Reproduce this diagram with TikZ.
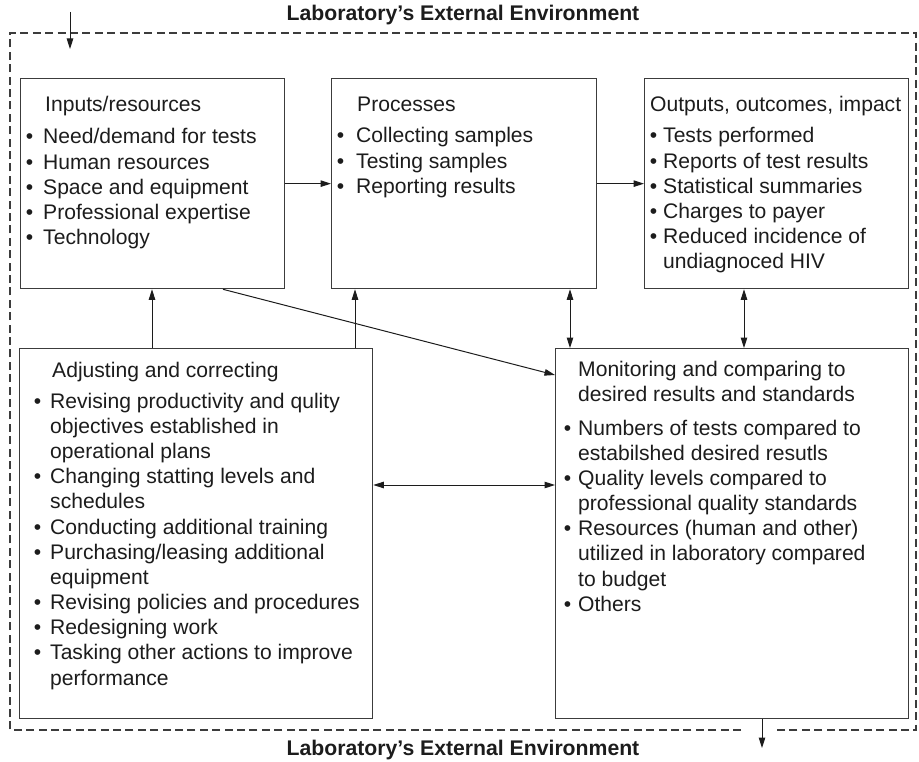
\documentclass[tikz,border=0pt]{standalone}
\usepackage{fontspec}
\setmainfont{Liberation Sans}
\usetikzlibrary{arrows.meta}

\definecolor{ink}{HTML}{1C1C1C}
\definecolor{edge}{HTML}{3C3C3C}

% bullet hung to the left of the text column
\newlength\bulgap
\newcommand\bl{\llap{\textbullet\hspace{\bulgap}}}
\newcommand\bodysize{\fontsize{21.1}{25.2}\selectfont}

\begin{document}
\begin{tikzpicture}[x=1pt,y=-1pt,
  stagebox/.style={draw=edge, line width=1.3pt, fill=white, anchor=north west,
                   inner sep=0pt, minimum width=#1},
  boxhigh/.style={minimum height=#1},
  heading/.style={anchor=base west, inner sep=0pt, text=ink, font=\bodysize},
  items/.style={anchor=base west, inner sep=0pt, text=ink, font=\bodysize},
  envlabel/.style={anchor=base, inner sep=0pt, text=ink,
                   font=\fontsize{21.2}{25}\selectfont\bfseries},
  envline/.style={draw=edge, line width=1.1pt, dash pattern=on 8pt off 4.4pt},
  conn/.style={draw=ink, line width=1pt, -{Triangle[length=10.5pt,width=6.5pt]}},
  dconn/.style={draw=ink, line width=1pt,
                {Triangle[length=10.5pt,width=6.5pt]}-{Triangle[length=10.5pt,width=6.5pt]}},
]
\useasboundingbox (0,0) rectangle (919,762);

% environment boundary, open where the output leaves it
\draw[envline] (741,730) -- (10,730) -- (10,33) -- (916,33) -- (916,730) -- (777,730);
\node[envlabel] (envTop) at (463,21) {Laboratory's External Environment};
\node[envlabel] (envBot) at (463,755) {Laboratory's External Environment};

% stage boxes
\node[stagebox=264pt, boxhigh=210pt] (inp)  at (20,78)  {};
\node[stagebox=265pt, boxhigh=210pt] (proc) at (331,78) {};
\node[stagebox=264pt, boxhigh=210pt] (outp) at (644,78) {};
\node[stagebox=353pt, boxhigh=370pt] (adj)  at (19,348) {};
\node[stagebox=353pt, boxhigh=370pt] (mon)  at (555,348) {};

% box contents
\node[heading] (inpH) at (45,112) {Inputs/resources};
\node[items] (inpL) at (43,144) {\setlength\bulgap{10pt}%
  \begin{tabular}[t]{@{}l@{}}
  \bl Need/demand for tests\\
  \bl Human resources\\
  \bl Space and equipment\\
  \bl Professional expertise\\
  \bl Technology
  \end{tabular}};

\node[heading] (procH) at (357,112) {Processes};
\node[items] (procL) at (356,143) {\setlength\bulgap{12pt}%
  \begin{tabular}[t]{@{}l@{}}
  \bl Collecting samples\\
  \bl Testing samples\\
  \bl Reporting results
  \end{tabular}};

\node[heading] (outpH) at (650,112) {Outputs, outcomes, impact};
\node[items] (outpL) at (663,143) {\setlength\bulgap{6pt}%
  \begin{tabular}[t]{@{}l@{}}
  \bl Tests performed\\
  \bl Reports of test results\\
  \bl Statistical summaries\\
  \bl Charges to payer\\
  \bl Reduced incidence of\\
  undiagnoced HIV
  \end{tabular}};

\node[heading] (adjH) at (52,377) {Adjusting and correcting};
\node[items] (adjL) at (50,408) {\setlength\bulgap{9pt}%
  \begin{tabular}[t]{@{}l@{}}
  \bl Revising productivity and qulity\\
  objectives established in\\
  operational plans\\
  \bl Changing statting levels and\\
  schedules\\
  \bl Conducting additional training\\
  \bl Purchasing/leasing additional\\
  equipment\\
  \bl Revising policies and procedures\\
  \bl Redesigning work\\
  \bl Tasking other actions to improve\\
  performance
  \end{tabular}};

\node[heading] (monH) at (578,376) {%
  \begin{tabular}[t]{@{}l@{}}
  Monitoring and comparing to\\
  desired results and standards
  \end{tabular}};
\node[items] (monL) at (578,435) {\setlength\bulgap{7pt}%
  \begin{tabular}[t]{@{}l@{}}
  \bl Numbers of tests compared to\\
  estabilshed desired resutls\\
  \bl Quality levels compared to\\
  professional quality standards\\
  \bl Resources (human and other)\\
  utilized in laboratory compared\\
  to budget\\
  \bl Others
  \end{tabular}};

% connector columns and rows
\coordinate (xFeedA) at (152,0);
\coordinate (xFeedB) at (355,0);
\coordinate (xDiag)  at (223,0);
\coordinate (yDiag)  at (0,375);
\coordinate (xProcMon) at (570,0);
\coordinate (xOutMon)  at (744,0);
\coordinate (yAdjMon)  at (0,485);
\coordinate (xOut)     at (762,0);
\coordinate (envIn)    at (70,12);
\coordinate (envInEnd) at (70,49);
\coordinate (envOut)   at (762,748);

% connectors
\draw[conn] (envIn) -- (envInEnd);
\draw[conn] (inp.east) -- (proc.west);
\draw[conn] (proc.east) -- (outp.west);
\draw[conn] (adj.north -| xFeedA) -- (inp.south -| xFeedA);
\draw[conn] (adj.north -| xFeedB) -- (proc.south -| xFeedB);
\draw[conn] (inp.south -| xDiag) -- (mon.west |- yDiag);
\draw[dconn] (proc.south -| xProcMon) -- (mon.north -| xProcMon);
\draw[dconn] (outp.south -| xOutMon) -- (mon.north -| xOutMon);
\draw[dconn] (adj.east |- yAdjMon) -- (mon.west |- yAdjMon);
\draw[conn] (mon.south -| xOut) -- (envOut);
\end{tikzpicture}
\end{document}
